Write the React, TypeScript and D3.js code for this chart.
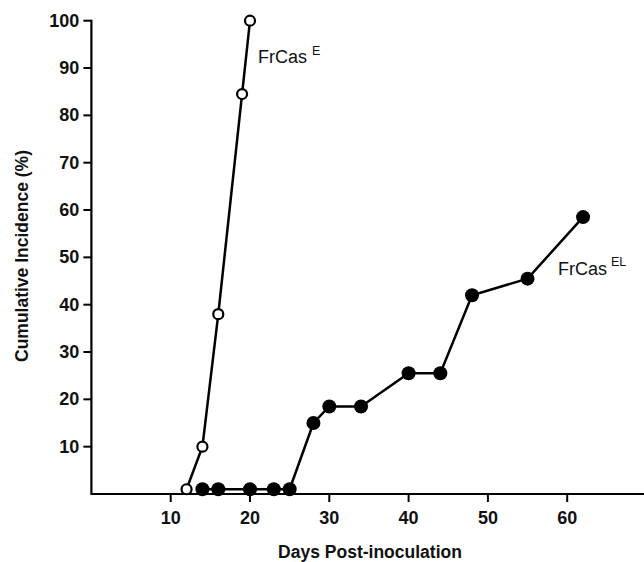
import React from "react";
import * as d3 from "d3";

const W = 644;
const H = 562;

// FrCas E (open circles)
const daysE = [12, 14, 16, 19, 20];
const incE = [1, 10, 38, 84.5, 100];

// FrCas EL (filled circles)
const daysEL = [14, 16, 20, 23, 25, 28, 30, 34, 40, 44, 48, 55, 62];
const incEL = [1, 1, 1, 1, 1, 15, 18.5, 18.5, 25.5, 25.5, 42, 45.5, 58.5];

const xTicks = [10, 20, 30, 40, 50, 60];
const yTicks = [10, 20, 30, 40, 50, 60, 70, 80, 90, 100];

const FONT = "'Liberation Sans', Arial, Helvetica, sans-serif";

const App = () => {
  const x = d3.scaleLinear().domain([0, 70]).range([91.4, 646.5]);
  const y = d3.scaleLinear().domain([0, 100]).range([494, 20.7]);

  const ptsE = daysE.map((d, i) => [d, incE[i]] as [number, number]);
  const ptsEL = daysEL.map((d, i) => [d, incEL[i]] as [number, number]);

  const line = d3
    .line<[number, number]>()
    .x((d) => x(d[0]))
    .y((d) => y(d[1]));

  return (
    <div style={{ position: "absolute", left: 0, top: 0 }}>
      <svg width={W} height={H} style={{ display: "block", background: "#fff" }}>
        {/* axes */}
        <line x1={x(0)} x2={W} y1={y(0)} y2={y(0)} stroke="#000" strokeWidth={2.2} />
        <line x1={x(0)} x2={x(0)} y1={y(0) + 1} y2={y(100) - 1} stroke="#000" strokeWidth={2.2} />
        {yTicks.map((t) => (
          <g key={"y" + t}>
            <line x1={x(0) - 8} x2={x(0)} y1={y(t)} y2={y(t)} stroke="#000" strokeWidth={2} />
            <text
              x={x(0) - 12}
              y={y(t)}
              textAnchor="end"
              dominantBaseline="central"
              fontFamily={FONT}
              fontWeight="bold"
              fontSize={18}
              fill="#111"
            >
              {t}
            </text>
          </g>
        ))}
        {xTicks.map((t) => (
          <g key={"x" + t}>
            <line x1={x(t)} x2={x(t)} y1={y(0)} y2={y(0) + 8} stroke="#000" strokeWidth={2} />
            <text
              x={x(t)}
              y={524}
              textAnchor="middle"
              fontFamily={FONT}
              fontWeight="bold"
              fontSize={18}
              fill="#111"
            >
              {t}
            </text>
          </g>
        ))}
        <text
          x={370}
          y={558}
          textAnchor="middle"
          fontFamily={FONT}
          fontWeight="bold"
          fontSize={17.5}
          fill="#111"
        >
          Days Post-inoculation
        </text>
        <text
          transform={`translate(28,256) rotate(-90)`}
          textAnchor="middle"
          fontFamily={FONT}
          fontWeight="bold"
          fontSize={17.5}
          fill="#111"
        >
          Cumulative Incidence (%)
        </text>

        {/* series lines */}
        <path d={line(ptsEL) ?? ""} fill="none" stroke="#000" strokeWidth={2.5} />
        <path d={line(ptsE) ?? ""} fill="none" stroke="#000" strokeWidth={2.5} />

        {ptsEL.map((p, i) => (
          <circle key={"el" + i} cx={x(p[0])} cy={y(p[1])} r={7} fill="#000" />
        ))}
        {ptsE.map((p, i) => (
          <circle
            key={"e" + i}
            cx={x(p[0])}
            cy={y(p[1])}
            r={5}
            fill="#fff"
            stroke="#000"
            strokeWidth={2.2}
          />
        ))}

        {/* series labels */}
        <text x={258} y={63} fontFamily={FONT} fontSize={18} fill="#111">
          FrCas
          <tspan dx={5} dy={-8} fontSize={12.5}>
            E
          </tspan>
        </text>
        <text x={558} y={275} fontFamily={FONT} fontSize={18} fill="#111">
          FrCas
          <tspan dx={4} dy={-9} fontSize={12.5}>
            EL
          </tspan>
        </text>
      </svg>
    </div>
  );
};

export default App;
